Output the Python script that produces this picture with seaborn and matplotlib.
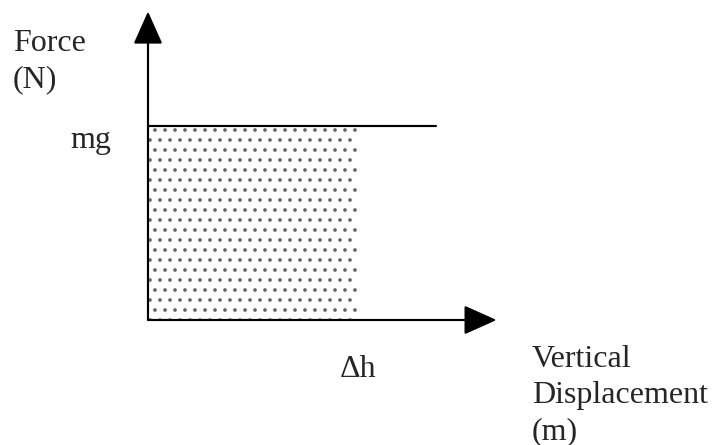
import matplotlib
matplotlib.use("Agg")
import matplotlib.pyplot as plt
import seaborn as sns
import pandas as pd

# ---- data (arbitrary units: Δh = 1, mg = 1) ----
shade_x = [0.0, 1.0]          # work region: 0 .. Δh
shade_force = [1.0, 1.0]      # constant force mg over the region
line_x = [0.0, 1.37]          # constant-force line extent
line_force = [1.0, 1.0]
x_axis_end = 1.66
y_axis_end = 1.59
mg_value = 1.0
dh_value = 1.0
y_label_lines = ["Force", "(N)"]
x_label_lines = ["Vertical", "Displacement", "(m)"]

sns.set_theme(style="white")
plt.rcParams["font.family"] = ["Liberation Serif", "DejaVu Serif"]

DPI = 120
W, H = 712, 445
fig = plt.figure(figsize=(W / DPI, H / DPI), dpi=DPI)
ax = fig.add_axes([0, 0, 1, 1])

# pixel mapping for layout: origin at (148, 320), 210 px per x unit, 194 px per y unit
X0, Y0, SX, SY = 148, 320, 210, 194
def px(x):
    return (x - X0) / SX
def py(y):
    return (Y0 - y) / SY

ax.set_xlim(px(0), px(W))
ax.set_ylim(py(H), py(0))
ax.axis("off")

# shaded (dotted) area
ax.fill_between(shade_x, 0, shade_force, facecolor="white", edgecolor="#666666",
                hatch="..", linewidth=0, zorder=1)

# constant force line
df = pd.DataFrame({"x": line_x, "F": line_force})
sns.lineplot(data=df, x="x", y="F", ax=ax, color="black", linewidth=1.3, zorder=3)

# axes arrows
arrow_kw = dict(arrowstyle="-|>,head_length=0.85,head_width=0.38", color="black",
                lw=1.3, mutation_scale=20, shrinkA=0, shrinkB=0)
ax.annotate("", xy=(0, y_axis_end), xytext=(0, 0), arrowprops=arrow_kw, zorder=4)
ax.annotate("", xy=(x_axis_end, 0), xytext=(0, 0), arrowprops=arrow_kw, zorder=4)

fs = 19.2
# labels
for i, t in enumerate(y_label_lines):
    ax.text(px(13), py(51 + 36 * i), t, fontsize=fs, ha="left", va="baseline")
ax.text(px(70), mg_value - 22 / SY, "mg", fontsize=fs, ha="left", va="baseline")
ax.text(dh_value - 18 / SX, py(377), "Δh", fontsize=fs, ha="left", va="baseline")
for i, t in enumerate(x_label_lines):
    ax.text(px(532), py(367 + 36 * i), t, fontsize=fs, ha="left", va="baseline")

fig.savefig("out.png", dpi=DPI, facecolor="white")
